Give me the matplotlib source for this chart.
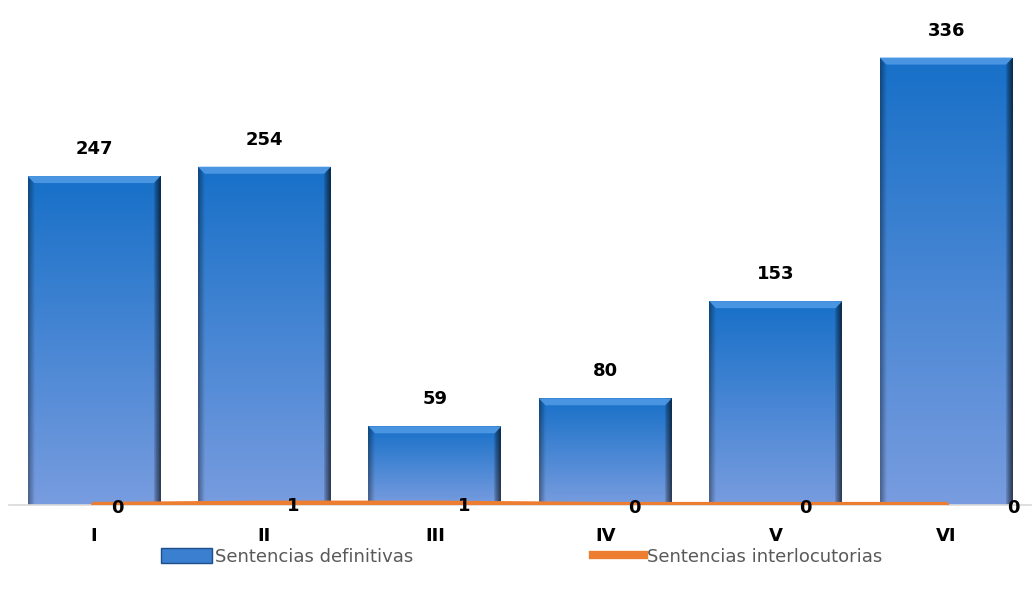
import numpy as np
import matplotlib.pyplot as plt
from matplotlib.patches import Rectangle
from matplotlib.lines import Line2D

# data
categories = ["I", "II", "III", "IV", "V", "VI"]
definitivas = [247, 254, 59, 80, 153, 336]
interlocutorias = [0, 1, 1, 0, 0, 0]

plt.rcParams['font.family'] = ['DejaVu Sans']

fig = plt.figure(figsize=(10.33, 5.96), dpi=100)
ax = fig.add_axes([0.0085, 0.153, 0.99, 0.804])

x = np.arange(len(categories))
width = 0.78

# bevelled gradient image for the bars
ny, nx = 200, 80
top_col = np.array([0x17, 0x70, 0xc8]) / 255
bot_col = np.array([0x78, 0x9c, 0xdf]) / 255
t = np.linspace(0, 1, ny)[:, None, None]
img = top_col * (1 - t) + bot_col * t
img = np.repeat(img, nx, axis=1)
xx = np.linspace(0, 1, nx)
shade = np.ones(nx)
shade = np.where(xx > 0.95, 0.4 + (1 - xx) / 0.05 * 0.5, shade)
shade = np.where(xx < 0.04, 0.65 + xx / 0.04 * 0.3, shade)
img = np.clip(img * shade[None, :, None], 0, 1)

for xi, h in zip(x, definitivas):
    x0 = xi - width / 2
    rect = Rectangle((x0, 0), width, h, facecolor="none", edgecolor="none")
    ax.add_patch(rect)
    band = min(7 / 1.33, h * 0.3)
    im = ax.imshow(img.copy(), extent=(x0, x0 + width, 0, h), aspect="auto",
                   origin="upper", zorder=2)
    im.set_clip_path(rect)
    # light top bevel
    ax.fill([x0, x0 + width, x0 + width * 0.95, x0 + width * 0.05],
            [h, h, h - band, h - band], color="#4a95e2", zorder=3, lw=0)
    ax.annotate(str(h), (xi, h), xytext=(0, 13), textcoords="offset points",
                ha="center", va="bottom", fontsize=13, fontweight="bold",
                color="black")

ax.plot(x, interlocutorias, color="#ED7D31", lw=4.2, solid_capstyle="round",
        zorder=4)
offsets = [17, 21, 21, 21, 21, 48]
for xi, v, off in zip(x, interlocutorias, offsets):
    ax.annotate(str(v), (xi, v), xytext=(off, -2), textcoords="offset points",
                ha="center", va="center", fontsize=13, fontweight="bold",
                color="black", zorder=5)

ax.set_xlim(-0.5, len(categories) - 0.5)
ax.set_ylim(0, 360)
ax.set_xticks(x)
ax.set_xticklabels(categories, fontsize=13, fontweight="bold")
ax.tick_params(axis="x", length=0, pad=16)
ax.set_yticks([])
for s in ["top", "right", "left"]:
    ax.spines[s].set_visible(False)
ax.spines["bottom"].set_color("#d9d9d9")
ax.spines["bottom"].set_linewidth(1.2)

handles = [Rectangle((0, 0), 1, 1, facecolor="#3a7fd0", edgecolor="#1e4f8a"),
           Line2D([0], [0], color="#ED7D31", lw=6)]
fig.legend(handles, ["Sentencias definitivas", "Sentencias interlocutorias"],
           loc="center", bbox_to_anchor=(0.505, 0.066), ncol=2, frameon=False,
           fontsize=13, labelcolor="#595959", columnspacing=10,
           handlelength=2.8, handleheight=0.9, handletextpad=0.15)

fig.savefig("out.png", dpi=100)
